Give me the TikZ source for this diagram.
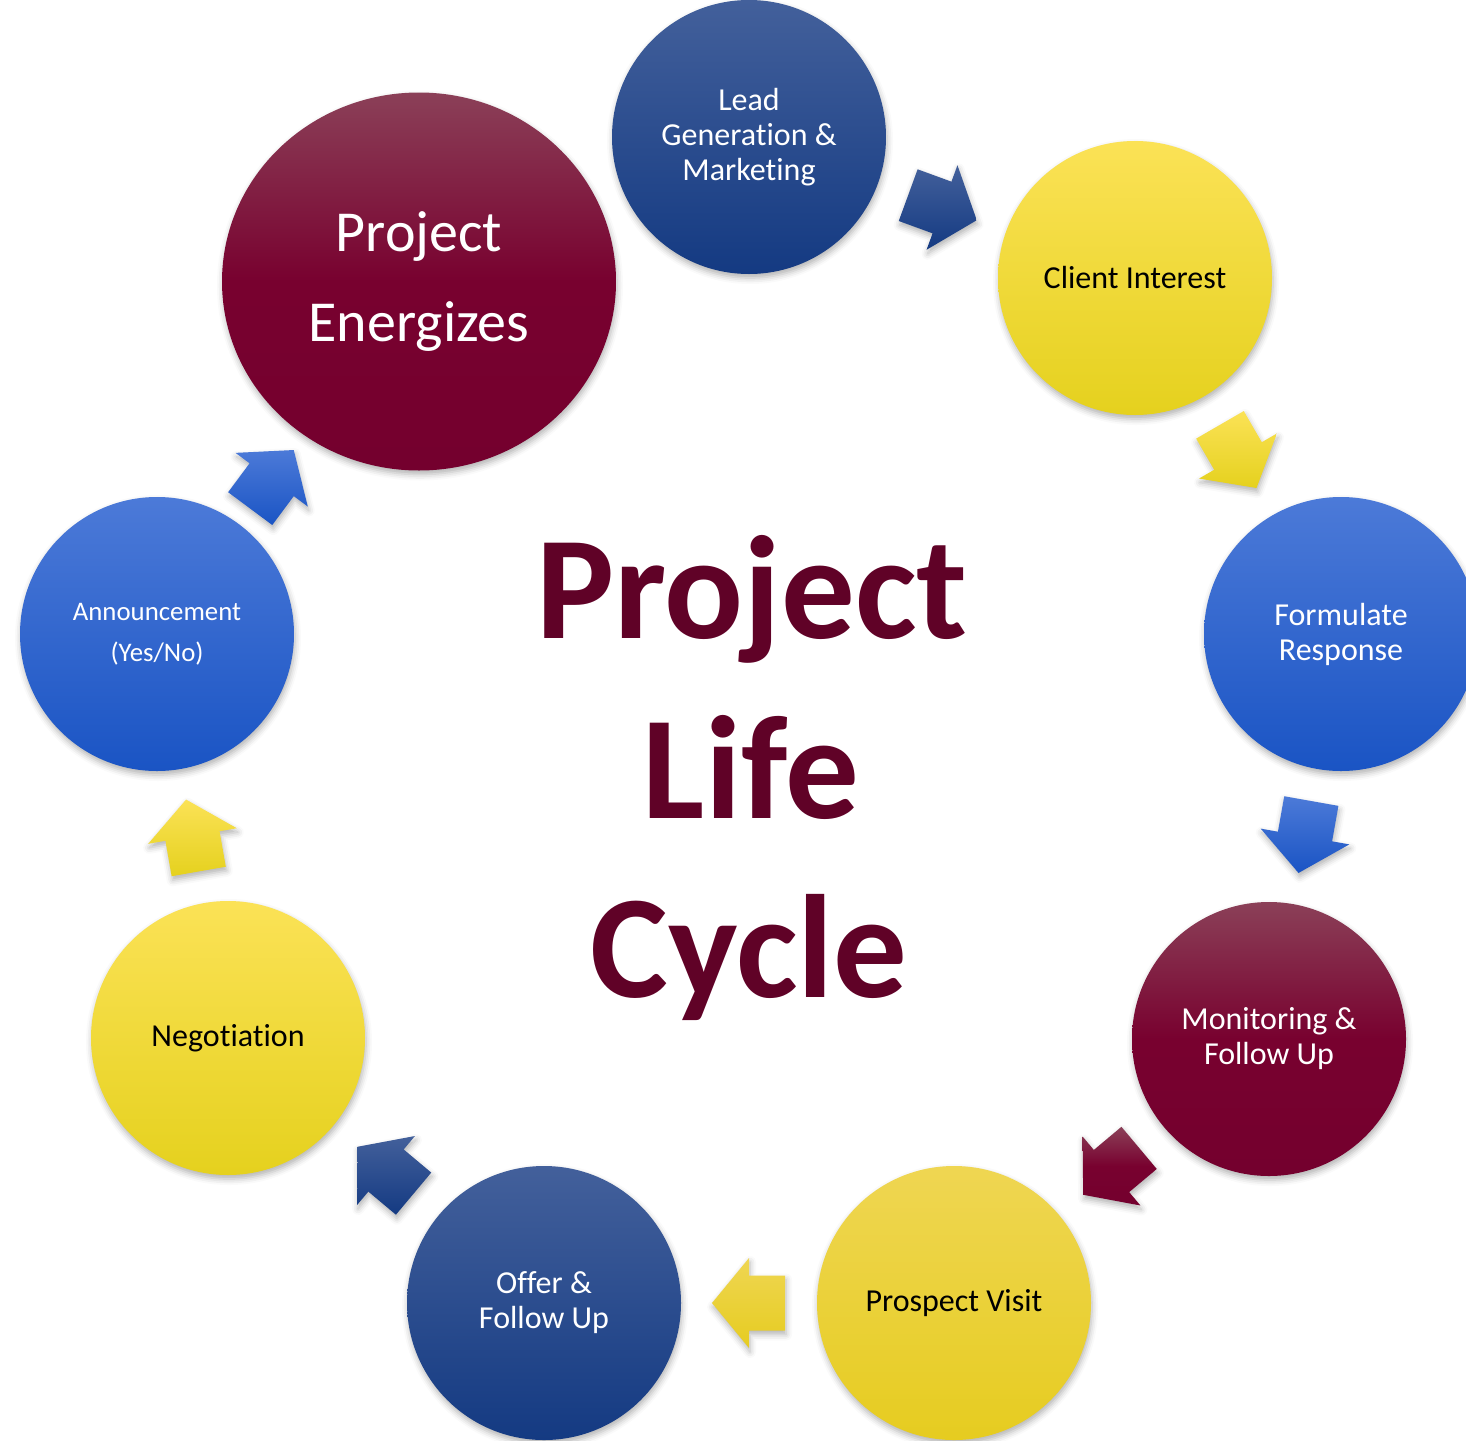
\documentclass[tikz,border=0pt]{standalone}
\usepackage{fontspec}
\setmainfont{Carlito}[Ligatures=NoCommon]
\usetikzlibrary{shadows.blur,shapes.geometric}
\definecolor{dbTop}{HTML}{43609B}
\definecolor{dbBot}{HTML}{143A82}
\definecolor{bTop}{HTML}{4C7AD8}
\definecolor{bBot}{HTML}{1A54C4}
\definecolor{mTop}{HTML}{8B4058}
\definecolor{mMid}{HTML}{78012F}
\definecolor{mBot}{HTML}{74002E}
\definecolor{yTop}{HTML}{FBE256}
\definecolor{yMid}{HTML}{FDE22C}
\definecolor{yBot}{HTML}{E5D11E}
\definecolor{pTop}{HTML}{EFD652}
\definecolor{pMid}{HTML}{EED53A}
\definecolor{pBot}{HTML}{E6CC20}
\definecolor{ctext}{HTML}{600227}
\pgfdeclareverticalshading{maroonsh}{100bp}{color(0bp)=(mBot); color(25bp)=(mBot); color(50bp)=(mMid); color(75bp)=(mTop); color(100bp)=(mTop)}
\tikzset{
  barrow/.pic={
    \path[#1] (-36,-27.5) -- (0,-27.5) -- (0,-45) -- (37,0) -- (0,45) -- (0,27.5) -- (-36,27.5) -- cycle;
  }
}
\begin{document}
\begin{tikzpicture}[x=1pt,y=-1pt,
  softshadow/.style={blur shadow={shadow xshift=1pt, shadow yshift=-4pt, shadow blur radius=6pt, shadow opacity=30}},
  circ/.style={circle, inner sep=0pt, minimum size=274pt, align=center, softshadow},
  darkblue/.style={top color=dbTop, bottom color=dbBot, text=white},
  blue/.style={top color=bTop, bottom color=bBot, text=white},
  maroon/.style={shading=maroonsh, text=white},
  yellow/.style={top color=yTop, middle color=yMid, bottom color=yBot, text=black},
  yellowp/.style={top color=pTop, middle color=pMid, bottom color=pBot, text=black},
  ftxt/.style={font=\fontsize{32}{35}\selectfont},
  bigtxt/.style={anchor=base, text=ctext, font=\fontsize{147}{147}\selectfont\bfseries},
  darkblueA/.style={top color=dbTop, bottom color=dbBot, softshadow},
  blueA/.style={top color=bTop, bottom color=bBot, softshadow},
  maroonA/.style={shading=maroonsh, softshadow},
  yellowA/.style={top color=yTop, middle color=yMid, bottom color=yBot, softshadow},
  yellowpA/.style={top color=pTop, middle color=pMid, bottom color=pBot, softshadow},
  onpath/.style={pos=0.5, sloped, allow upside down}
]
\useasboundingbox (0,0) rectangle (1466,1440);

\node[circ, darkblue, ftxt] (lead) at (749,137) {Lead\\Generation \&\\Marketing};
\node[circ, yellow, ftxt] (client) at (1135,278) {Client Interest};
\node[circ, blue, ftxt] (formulate) at (1341,634) {Formulate\\Response};
\node[circ, maroon, ftxt] (monitor) at (1269,1039) {Monitoring \&\\Follow Up};
\node[circ, yellowp, ftxt] (prospect) at (954,1303) {Prospect Visit};
\node[circ, darkblue, ftxt] (offer) at (544,1303) {Offer \&\\Follow Up};
\node[circ, yellow, ftxt] (nego) at (228,1038) {Negotiation};
\node[circ, blue, font=\fontsize{26.8}{41}\selectfont] (announce) at (157,634) {Announcement\\(Yes/No)};
\node[ellipse, inner sep=0pt, minimum width=394pt, minimum height=378pt, align=center, softshadow, maroon, font=\fontsize{58}{90}\selectfont] (energize) at (419,281.5) {Project\\Energizes};

\path (lead) -- (client) pic[onpath] {barrow=darkblueA};
\path (client) -- (formulate) pic[onpath] {barrow=yellowA};
\path (formulate) -- (monitor) pic[onpath] {barrow=blueA};
\path (monitor) -- (prospect) pic[onpath] {barrow=maroonA};
\path (prospect) -- (offer) pic[onpath] {barrow=yellowpA};
\path (offer) -- (nego) pic[onpath] {barrow=darkblueA};
\path (nego) -- (announce) pic[onpath] {barrow=yellowA};
\path (announce) -- (energize) pic[onpath] {barrow=blueA};

\node[bigtxt] (t1) at (752,638) {Project};
\node[bigtxt] (t2) at (751,818) {Life};
\node[bigtxt] (t3) at (749,997) {Cycle};
\end{tikzpicture}
\end{document}
